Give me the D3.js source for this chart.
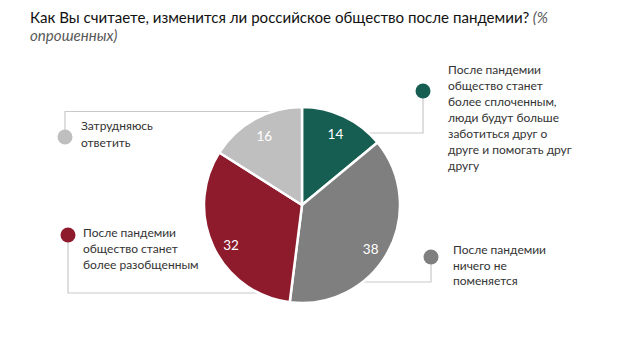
<!DOCTYPE html>
<html><head><meta charset="utf-8">
<script src="https://cdn.jsdelivr.net/npm/d3@7"></script>
<style>body{margin:0;background:#fff}svg{display:block}</style>
</head><body>
<svg id="c" width="620" height="351"></svg>
<script>
const categories = ["После пандемии общество станет более сплоченным, люди будут больше заботиться друг о друге и помогать друг другу",
  "После пандемии ничего не поменяется",
  "После пандемии общество станет более разобщенным",
  "Затрудняюсь ответить"];
const values = [14, 38, 32, 16];
const colors = ["#175e52", "#7f7f7f", "#8d1b2c", "#bfbfbf"];
const labelLines = [
  ["После пандемии","общество станет","более сплоченным,","люди будут больше","заботиться друг о","друге и помогать друг","другу"],
  ["После пандемии","ничего не","поменяется"],
  ["После пандемии","общество станет","более разобщенным"],
  ["Затрудняюсь","ответить"]
];
const titleMain = "Как Вы считаете, изменится ли российское общество после пандемии?";
const titleNote1 = "(%";
const titleNote2 = "опрошенных)";

const svg = d3.select("#c");
const FONT = "Lato, 'Liberation Sans', sans-serif";
const cx = 302, cy = 205, r = 98;

// title
const t = svg.append("text").attr("x", 30).attr("y", 23)
  .style("font-family", FONT).style("font-size", "15.1px").attr("fill", "#111");
t.append("tspan").text(titleMain);
t.append("tspan").text(" " + titleNote1).style("font-style", "italic").attr("fill", "#595959");
svg.append("text").attr("x", 30).attr("y", 41).text(titleNote2)
  .style("font-family", FONT).style("font-size", "15.1px").style("font-style", "italic").attr("fill", "#595959");

// leader layout: [dotX, dotY, lineY, textX, textY0, lineH]
const layout = [
  {dx: 423, dy: 91, ly: 133, tx: 448, ty: 74, lh: 16},
  {dx: 431, dy: 257, ly: 282, tx: 453, ty: 254, lh: 15.7},
  {dx: 68, dy: 235, ly: 293, tx: 83, ty: 237, lh: 16},
  {dx: 65, dy: 137, ly: 111.5, tx: 81, ty: 130, lh: 16.5}
];
const lineCol = "#c9c9c9";
layout.forEach((L, i) => {
  svg.append("path")
    .attr("d", `M${L.dx},${L.dy} V${L.ly} H${cx}`)
    .attr("fill", "none").attr("stroke", lineCol).attr("stroke-width", 1.2);
});

const pie = d3.pie().sort(null).value(d => d)(values);
const arc = d3.arc().innerRadius(0).outerRadius(r);
const labelArc = d3.arc().innerRadius(r * 0.8).outerRadius(r * 0.8);
const g = svg.append("g").attr("transform", `translate(${cx},${cy})`);
g.selectAll("path").data(pie).join("path")
  .attr("d", arc).attr("fill", (d, i) => colors[i])
  .attr("stroke", "#fff").attr("stroke-width", 2.5).attr("stroke-linejoin", "round");
g.selectAll("text").data(pie).join("text")
  .attr("transform", d => `translate(${labelArc.centroid(d)})`)
  .attr("text-anchor", "middle").attr("dy", (d, i) => (i === 1 || i === 2) ? "0.85em" : "0.35em")
  .style("font-family", FONT).style("font-size", "13.5px").attr("fill", "#fff")
  .text(d => d.data);

layout.forEach((L, i) => {
  svg.append("circle").attr("cx", L.dx).attr("cy", L.dy).attr("r", 7.5).attr("fill", colors[i]);
  const tx = svg.append("text").attr("x", L.tx).attr("y", L.ty)
    .style("font-family", FONT).style("font-size", "12px").attr("fill", "#333");
  labelLines[i].forEach((ln, j) => {
    tx.append("tspan").attr("x", L.tx).attr("y", L.ty + j * L.lh).text(ln);
  });
});
</script>
</body></html>
